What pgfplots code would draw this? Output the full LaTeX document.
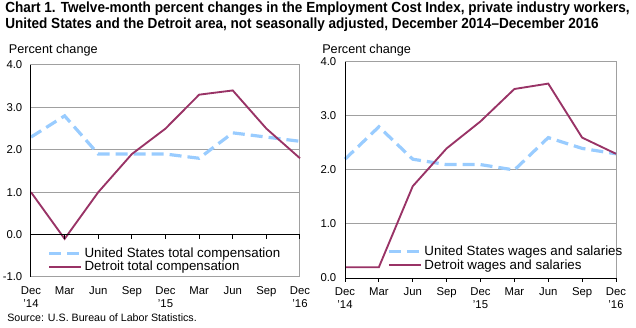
\documentclass[border=0pt]{standalone}
\usepackage{pgfplots}
\pgfplotsset{compat=1.18}
\usepackage{fontspec}
\setmainfont{Liberation Sans}
\newfontfamily\titlefont[FakeStretch=0.925]{Liberation Sans}
\definecolor{usblue}{HTML}{99CCFF}
\definecolor{detred}{HTML}{993366}
\definecolor{gridgray}{HTML}{A0A0A0}
\pgfplotsset{
  ecistyle/.style={
    scale only axis, clip=false,
    xmin=0, xmax=8,
    xtick={0,...,8},
    xticklabels={{Dec\\'14},Mar,Jun,Sep,{Dec\\'15},Mar,Jun,Sep,{Dec\\'16}},
    xticklabel style={align=center, font=\fontsize{8.5}{9.5}\selectfont, yshift=-4pt},
    yticklabel style={font=\fontsize{8.5}{9.5}\selectfont, xshift=-3pt},
    major tick length=0pt,
    /pgf/number format/assume math mode=true,
    /pgf/number format/.cd, fixed, fixed zerofill, precision=1, /pgfplots/.cd,
    ymajorgrids, grid style={gridgray, line width=0.75pt},
    axis line style={gridgray, line width=0.75pt},
    legend cell align=left,
    legend style={draw=none, fill=none, inner sep=0pt, font=\fontsize{10}{11}\selectfont,
      row sep=-1.5pt, nodes={inner sep=1.5pt}},
    legend image code/.code={\draw[#1] (0pt,0pt) -- (24pt,0pt);},
  },
  usline/.style={usblue, line width=2.4pt, dash pattern=on 9pt off 4.5pt},
  detline/.style={detred, line width=1.4pt},
}
\begin{document}
\begin{tikzpicture}
\path[use as bounding box] (0pt,0pt) rectangle (477pt,-246pt);
\node[anchor=north west, inner sep=0pt, align=left,
  font=\titlefont\bfseries\fontsize{11}{12}\selectfont] at (3.75pt,-1.5pt)
  {Chart 1. Twelve-month percent changes in the Employment Cost Index, private industry workers,\\
   United States and the Detroit area, not seasonally adjusted, December 2014–December 2016};
\node[anchor=west, inner sep=0pt, font=\fontsize{9.5}{11}\selectfont] at (6.5pt,-37.5pt) {Percent change};
\node[anchor=west, inner sep=0pt, font=\fontsize{9.5}{11}\selectfont] at (241.5pt,-37.5pt) {Percent change};
\node[anchor=west, inner sep=0pt, font=\fontsize{8}{9}\selectfont] at (5.25pt,-238pt) {Source: U.S. Bureau of Labor Statistics.};

\begin{axis}[ecistyle, at={(23.25pt,-48.75pt)}, anchor=north west,
  width=201.75pt, height=159pt, ymin=-1, ymax=4, ytick={-1,...,4},
  legend style={at={(rel axis cs:0.06,0.15)}, anchor=north west}]
\addplot[usline] coordinates {(0,2.3) (1,2.8) (2,1.9) (3,1.9) (4,1.9) (5,1.8) (6,2.4) (7,2.3) (8,2.2)};
\addlegendentry{United States total compensation}
\addplot[detline] coordinates {(0,1.0) (1,-0.1) (2,1.0) (3,1.9) (4,2.5) (5,3.3) (6,3.4) (7,2.5) (8,1.8)};
\addlegendentry{Detroit total compensation}
\draw[black, line width=0.75pt] (axis cs:0,-1) -- (axis cs:0,4);
\draw[black, line width=0.75pt] (axis cs:0,0) -- (axis cs:8,0);
\pgfplotsinvokeforeach{0,...,8}{\draw[black, line width=0.75pt] (axis cs:#1,0) -- ([yshift=-3pt]axis cs:#1,0);}
\end{axis}

\begin{axis}[ecistyle, at={(258.75pt,-46.5pt)}, anchor=north west,
  width=203.25pt, height=162pt, ymin=0, ymax=4, ytick={0,...,4},
  legend style={at={(rel axis cs:0.155,0.16)}, anchor=north west}]
\addplot[usline] coordinates {(0,2.2) (1,2.8) (2,2.2) (3,2.1) (4,2.1) (5,2.0) (6,2.6) (7,2.4) (8,2.3)};
\addlegendentry{United States wages and salaries}
\addplot[detline] coordinates {(0,0.2) (1,0.2) (2,1.7) (3,2.4) (4,2.9) (5,3.5) (6,3.6) (7,2.6) (8,2.3)};
\addlegendentry{Detroit wages and salaries}
\draw[black, line width=0.75pt] (axis cs:0,0) -- (axis cs:0,4);
\draw[black, line width=0.75pt] (axis cs:0,0) -- (axis cs:8,0);
\pgfplotsinvokeforeach{0,...,8}{\draw[black, line width=0.75pt] (axis cs:#1,0) -- ([yshift=-3pt]axis cs:#1,0);}
\end{axis}
\end{tikzpicture}
\end{document}
